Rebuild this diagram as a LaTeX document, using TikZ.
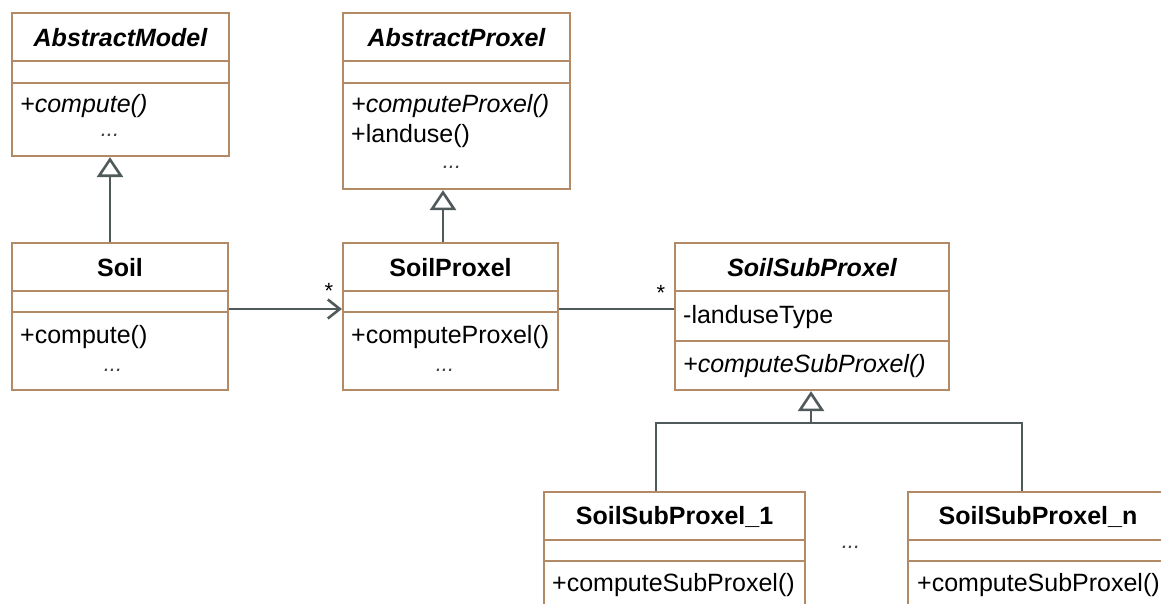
\documentclass[tikz,border=0pt]{standalone}
\usepackage{fontspec}
\setmainfont{Liberation Sans}
\usetikzlibrary{arrows.meta,calc}
\definecolor{boxc}{RGB}{178,138,102}
\definecolor{linec}{RGB}{80,90,90}
\newcommand\hsep[2]{\draw[sepline] ($(#1.north west)+(0,#2)$) -- ($(#1.north east)+(0,#2)$);}
\begin{document}
\begin{tikzpicture}[x=1pt,y=-1pt,
  cls/.style={draw=boxc,line width=2.2pt,inner sep=0pt,fill=white},
  sepline/.style={draw=boxc,line width=2.2pt},
  txt/.style={inner sep=0pt,anchor=west,font=\fontsize{25}{30}\selectfont},
  itxt/.style={txt,font=\fontsize{25}{30}\selectfont\itshape},
  ttl/.style={inner sep=0pt,font=\fontsize{25}{30}\selectfont\bfseries},
  ittl/.style={inner sep=0pt,font=\fontsize{25}{30}\selectfont\bfseries\itshape},
  dotsty/.style={inner sep=0pt,anchor=base,font=\fontsize{22}{26}\selectfont\itshape,text=black!75},
  mult/.style={inner sep=0pt,font=\fontsize{22}{26}\selectfont},
  conn/.style={draw=linec,line width=2.6pt},
  gen/.style={conn,-{Triangle[open,length=20pt,width=26pt,line width=2.6pt]}},
  assoc/.style={conn,-{Straight Barb[length=12pt,width=19pt,line width=2.6pt]}}]
\fill[white] (0,0) rectangle (1161,604);
\useasboundingbox (0,0) rectangle (1161,604);
\clip (0,0) rectangle (1161,604);

% class boxes
\node[cls,minimum width=217pt,minimum height=143pt] (am) at (120.5,84.5) {};
\node[cls,minimum width=227pt,minimum height=176pt] (ap) at (456.5,101) {};
\node[cls,minimum width=216pt,minimum height=147pt] (soil) at (120,316.5) {};
\node[cls,minimum width=215pt,minimum height=147pt] (sp) at (450.5,316.5) {};
\node[cls,minimum width=274pt,minimum height=147pt] (ssp) at (812,316.5) {};
\node[cls,minimum width=261pt,minimum height=168pt] (s1) at (674.5,576) {};
\node[cls,minimum width=260pt,minimum height=168pt] (sn) at (1038,576) {};

\hsep{am}{49} \hsep{am}{71}
\hsep{ap}{49} \hsep{ap}{71}
\hsep{soil}{49} \hsep{soil}{70}
\hsep{sp}{49} \hsep{sp}{70}
\hsep{ssp}{49} \hsep{ssp}{99}
\hsep{s1}{49} \hsep{s1}{70}
\hsep{sn}{49} \hsep{sn}{70}

% titles
\node[ittl] (am-t) at (120.5,38) {AbstractModel};
\node[ittl] (ap-t) at (456.5,38) {AbstractProxel};
\node[ttl] (soil-t) at (120,268) {Soil};
\node[ttl] (sp-t) at (450.5,268) {SoilProxel};
\node[ittl] (ssp-t) at (812,268) {SoilSubProxel};
\node[ttl] (s1-t) at (674.5,517) {SoilSubProxel\_1};
\node[ttl] (sn-t) at (1038,517) {SoilSubProxel\_n};

% members
\node[itxt] (am-m1) at (20,106) {+compute()};
\node[dotsty] (am-d) at (110,137) {...};
\node[itxt] (ap-m1) at (351,106) {+computeProxel()};
\node[txt] (ap-m2) at (351,136) {+landuse()};
\node[dotsty] (ap-d) at (452,168) {...};
\node[txt] (soil-m1) at (20,337) {+compute()};
\node[dotsty] (soil-d) at (113,371) {...};
\node[txt] (sp-m1) at (351,337) {+computeProxel()};
\node[dotsty] (sp-d) at (445,371) {...};
\node[txt] (ssp-a1) at (683,317) {-landuseType};
\node[itxt] (ssp-m1) at (683,366) {+computeSubProxel()};
\node[txt] (s1-m1) at (552,585) {+computeSubProxel()};
\node[txt] (sn-m1) at (917,585) {+computeSubProxel()};
\node[dotsty] (mid-d) at (851,548) {...};

% multiplicities
\node[mult] (m1) at (329,291) {*};
\node[mult] (m2) at (661,293) {*};

% connectors
\draw[gen] ([xshift=-10pt]soil.north) -- ([xshift=-10.5pt]am.south);
\draw[gen] ([xshift=-7.5pt]sp.north) -- ([xshift=-13.5pt]ap.south);
\draw[assoc] ([yshift=7.5pt]soil.east) -- ([yshift=7.5pt]sp.west);
\draw[conn] ([yshift=7.5pt]sp.east) -- ([yshift=7.5pt]ssp.west);
\coordinate (j) at (811,423);
\draw[conn] ([xshift=-18.5pt]s1.north) |- (j) -| ([xshift=-16pt]sn.north);
\draw[gen] (j) -- ([xshift=-1pt]ssp.south);
\end{tikzpicture}
\end{document}
